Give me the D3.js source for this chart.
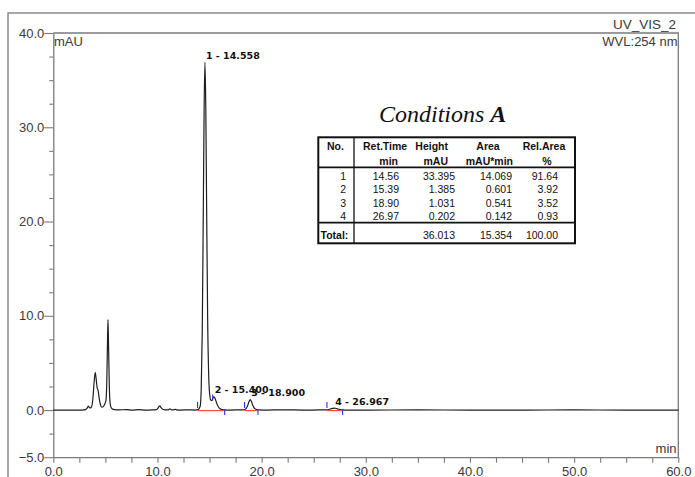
<!DOCTYPE html>
<html>
<head>
<meta charset="utf-8">
<script src="https://cdn.jsdelivr.net/npm/d3@7/dist/d3.min.js"></script>
<style>
  html, body { margin: 0; padding: 0; background: #fff; }
  svg { display: block; }
</style>
</head>
<body>
<svg id="chart" width="695" height="477"></svg>
<script>
// UV_VIS_2 chromatogram (254 nm) with integration marks and peak table

// detector trace: retention time (min) and absorbance (mAU)
const traceTime = [0, 2.8, 3.1, 3.25, 3.37, 3.5, 3.65, 3.8, 3.92, 4.03, 4.15, 4.22, 4.29, 4.4, 4.52, 4.65, 4.78, 4.92,
  5.05, 5.13, 5.2, 5.25, 5.31, 5.38, 5.46, 5.56, 5.7, 5.9, 6.3, 7.0, 7.6, 8.2, 8.8, 9.5, 9.9, 10.05, 10.2, 10.35, 10.5,
  10.7, 11.0, 11.2, 11.35, 11.55, 11.7, 11.85, 12.2, 13.0, 13.6, 13.9, 14.1, 14.2, 14.3, 14.4, 14.48, 14.558, 14.64,
  14.72, 14.82, 14.92, 15.02, 15.12, 15.22, 15.31, 15.4, 15.5, 15.62, 15.75, 15.9, 16.1, 16.4, 17.0, 17.8, 18.3, 18.5,
  18.65, 18.78, 18.9, 19.02, 19.15, 19.3, 19.5, 19.75, 20.5, 22, 24, 25.5, 26.3, 26.5, 26.7, 26.967, 27.2, 27.45, 27.7,
  28.2, 30, 35, 40, 45, 50, 55, 60];
const traceMAU = [0, 0, 0.05, 0.2, 0.42, 0.22, 0.3, 1.2, 3.0, 4.0, 2.9, 2.3, 2.15, 1.3, 0.6, 0.32, 0.35, 0.6,
  1.0, 2.8, 7.0, 9.6, 6.5, 2.4, 0.7, 0.25, 0.1, 0.05, 0.02, 0.05, 0.0, 0.04, 0.0, 0.02, 0.05, 0.2, 0.45, 0.25, 0.08,
  0.03, 0.02, 0.12, 0.03, 0.02, 0.08, 0.02, 0.0, 0.02, 0.0, 0.05, 0.4, 2.2, 8.4, 21.2, 32.0, 36.9, 32.0,
  21.5, 9.5, 3.6, 1.6, 1.05, 1.0, 1.25, 1.4, 1.3, 0.95, 0.55, 0.25, 0.08, 0.02, 0.0, 0.02, 0.03, 0.15,
  0.45, 0.88, 1.1, 0.9, 0.5, 0.2, 0.06, 0.02, 0.0, 0.02, 0.0, 0.01, 0.02, 0.07, 0.15, 0.2, 0.16, 0.08, 0.02,
  0.0, 0.0, 0.01, 0.0, 0.0, 0.01, 0.0, 0.0];

// labelled peaks
const peakNames = ["1", "2", "3", "4"];
const peakTimes = [14.558, 15.400, 18.900, 26.967];
const peakApex = [36.9, 1.4, 1.1, 0.2];

// integration events: delimiter ticks and baselines
const markTime = [13.85, 15.3, 16.45, 18.36, 19.65, 26.27, 27.77];
const markLevel = [0, 0.8, 0, 0, 0, 0, 0];
const markDir = ["up", "up", "down", "up", "down", "up", "down"];
const baseStart = [13.85, 18.36, 26.27];
const baseEnd = [16.45, 19.65, 27.77];

// axis ticks
const xMajor = [0, 10, 20, 30, 40, 50, 60];
const yMajor = [-5, 0, 10, 20, 30, 40];
const tickStep = 2.5;

// peak table
const tableCols = ["No.", "Ret.Time", "Height", "Area", "Rel.Area"];
const tableUnits = ["min", "mAU", "mAU*min", "%"];
const tNo = [1, 2, 3, 4];
const tRetTime = ["14.56", "15.39", "18.90", "26.97"];
const tHeight = ["33.395", "1.385", "1.031", "0.202"];
const tArea = ["14.069", "0.601", "0.541", "0.142"];
const tRelArea = ["91.64", "3.92", "3.52", "0.93"];
const tTotal = ["Total:", "36.013", "15.354", "100.00"];

(function draw() {
  const svg = d3.select("#chart");
  const pl = 53.3, pr = 678.3, pt = 33, pb = 457.2;
  const x = d3.scaleLinear().domain([0, 60]).range([pl, pr]);
  const y = d3.scaleLinear().domain([-5, 40]).range([pb, pt]);

  const axisColor = "#7a7a7a";
  const textColor = "#3a3a3a";
  const sans = "Arial, 'Liberation Sans', sans-serif";

  // outer page frame
  svg.append("path")
    .attr("d", "M8,477V13H695")
    .attr("fill", "none").attr("stroke", "#8c8c8c").attr("stroke-width", 1.5);

  // plot frame top and right
  svg.append("path")
    .attr("d", `M${pl},${pt}H${pr}V${pb}`)
    .attr("fill", "none").attr("stroke", axisColor).attr("stroke-width", 1.3);

  // axes
  const xTicks = d3.range(0, 60 + 1e-9, tickStep);
  const yTicks = d3.range(-5, 40 + 1e-9, tickStep);

  const xAxis = d3.axisBottom(x).tickValues(xTicks).tickSize(5.5).tickSizeOuter(0).tickPadding(4)
    .tickFormat(d => xMajor.includes(d) ? d3.format(".1f")(d) : "");
  const yAxis = d3.axisLeft(y).tickValues(yTicks).tickSize(4).tickSizeOuter(0).tickPadding(1)
    .tickFormat(d => yMajor.includes(d) ? d3.format(".1f")(d) : "");

  const gx = svg.append("g").attr("transform", `translate(0,${pb})`).call(xAxis);
  const gy = svg.append("g").attr("transform", `translate(${pl},0)`).call(yAxis);

  [gx, gy].forEach(g => {
    g.select(".domain").attr("stroke", axisColor).attr("stroke-width", 1.3);
    g.selectAll(".tick line").attr("stroke", axisColor).attr("stroke-width", 1.1);
    g.selectAll(".tick text").attr("fill", textColor).attr("font-family", sans).attr("font-size", 13);
  });
  gy.selectAll(".tick line").attr("x2", d => yMajor.includes(d) ? -9 : -4);
  gy.selectAll(".tick text").attr("x", -9);

  // axis units and channel info
  svg.append("text").attr("x", 54).attr("y", 46).text("mAU")
    .attr("font-family", sans).attr("font-size", 13).attr("fill", textColor);
  svg.append("text").attr("x", 676).attr("y", 29).attr("text-anchor", "end").text("UV_VIS_2")
    .attr("font-family", sans).attr("font-size", 13.5).attr("fill", textColor);
  svg.append("text").attr("x", 677.5).attr("y", 46).attr("text-anchor", "end").text("WVL:254 nm")
    .attr("font-family", sans).attr("font-size", 13).attr("fill", textColor);
  svg.append("text").attr("x", 676.5).attr("y", 453).attr("text-anchor", "end").text("min")
    .attr("font-family", sans).attr("font-size", 13).attr("fill", textColor);

  // chromatogram trace
  const pts = traceTime.map((t, i) => [t, traceMAU[i]]);
  svg.append("path").datum(pts)
    .attr("d", d3.line().x(d => x(d[0])).y(d => y(d[1])).curve(d3.curveMonotoneX))
    .attr("fill", "none").attr("stroke", "#1e1e1e").attr("stroke-width", 1.2)
    .attr("stroke-linejoin", "round");

  // integration baselines
  svg.append("g").selectAll("line").data(baseStart).join("line")
    .attr("x1", d => x(d)).attr("x2", (d, i) => x(baseEnd[i]))
    .attr("y1", y(0) + 0.5).attr("y2", y(0) + 0.5)
    .attr("stroke", "#ff4a4a").attr("stroke-width", 1.2);

  // peak delimiters
  svg.append("g").selectAll("line").data(markTime).join("line")
    .attr("x1", d => x(d)).attr("x2", d => x(d))
    .attr("y1", (d, i) => markDir[i] === "up" ? y(markLevel[i]) - 2 : y(markLevel[i]) - 1)
    .attr("y2", (d, i) => markDir[i] === "up" ? y(markLevel[i]) - 8 : y(markLevel[i]) + 5)
    .attr("stroke", "#2f2fff").attr("stroke-width", 1.1);

  // peak labels
  svg.append("g").selectAll("text").data(peakTimes).join("text")
    .attr("x", d => x(d) + 1)
    .attr("y", (d, i) => y(peakApex[i]) - 3.5)
    .text((d, i) => `${peakNames[i]} - ${d3.format(".3f")(d)}`)
    .attr("font-family", "'DejaVu Sans', sans-serif").attr("font-weight", "bold")
    .attr("font-size", 9.5).attr("fill", "#111");

  // condition title
  const title = svg.append("text").attr("x", 379).attr("y", 122)
    .attr("font-family", "'Liberation Serif', 'Times New Roman', serif").attr("font-style", "italic")
    .attr("font-size", 24).attr("fill", "#111");
  title.append("tspan").text("Conditions ");
  title.append("tspan").attr("font-weight", "bold").text("A");

  // peak table
  const tb = svg.append("g");
  const tx0 = 318.3, tx1 = 575, ty0 = 137.3, ty1 = 243.3;
  tb.append("rect").attr("x", tx0).attr("y", ty0).attr("width", tx1 - tx0).attr("height", ty1 - ty0)
    .attr("fill", "#fff").attr("stroke", "#111").attr("stroke-width", 2);
  tb.append("line").attr("x1", 354).attr("x2", 354).attr("y1", ty0).attr("y2", ty1)
    .attr("stroke", "#111").attr("stroke-width", 1.3);
  [167.3, 222.7].forEach(yy => tb.append("line").attr("x1", tx0).attr("x2", tx1)
    .attr("y1", yy).attr("y2", yy).attr("stroke", "#111").attr("stroke-width", 1.8));

  const cell = (txt, xx, yy, anchor, bold) => tb.append("text")
    .attr("x", xx).attr("y", yy).attr("text-anchor", anchor).text(txt)
    .attr("font-family", sans).attr("font-size", 10.5)
    .attr("font-weight", bold ? "bold" : "normal").attr("fill", "#111");

  // header rows
  cell(tableCols[0], 327, 150, "start", true);
  cell(tableCols[1], 363, 150, "start", true);
  cell(tableCols[2], 448, 150, "end", true);
  cell(tableCols[3], 488, 150, "middle", true);
  cell(tableCols[4], 544, 150, "middle", true);
  cell(tableUnits[0], 398, 164.5, "end", true);
  cell(tableUnits[1], 448, 164.5, "end", true);
  cell(tableUnits[2], 513, 164.5, "end", true);
  cell(tableUnits[3], 547, 164.5, "middle", true);

  // body rows
  const rowY = [180, 193.3, 206.6, 219.9];
  const colX = [346, 399, 455, 512, 558];
  tNo.forEach((n, i) => {
    cell(String(n), colX[0], rowY[i], "end", false);
    cell(tRetTime[i], colX[1], rowY[i], "end", false);
    cell(tHeight[i], colX[2], rowY[i], "end", false);
    cell(tArea[i], colX[3], rowY[i], "end", false);
    cell(tRelArea[i], colX[4], rowY[i], "end", false);
  });

  // total row
  cell(tTotal[0], 320.5, 238.5, "start", true);
  cell(tTotal[1], colX[2], 238.5, "end", false);
  cell(tTotal[2], colX[3], 238.5, "end", false);
  cell(tTotal[3], colX[4], 238.5, "end", false);
})();
</script>
</body>
</html>
